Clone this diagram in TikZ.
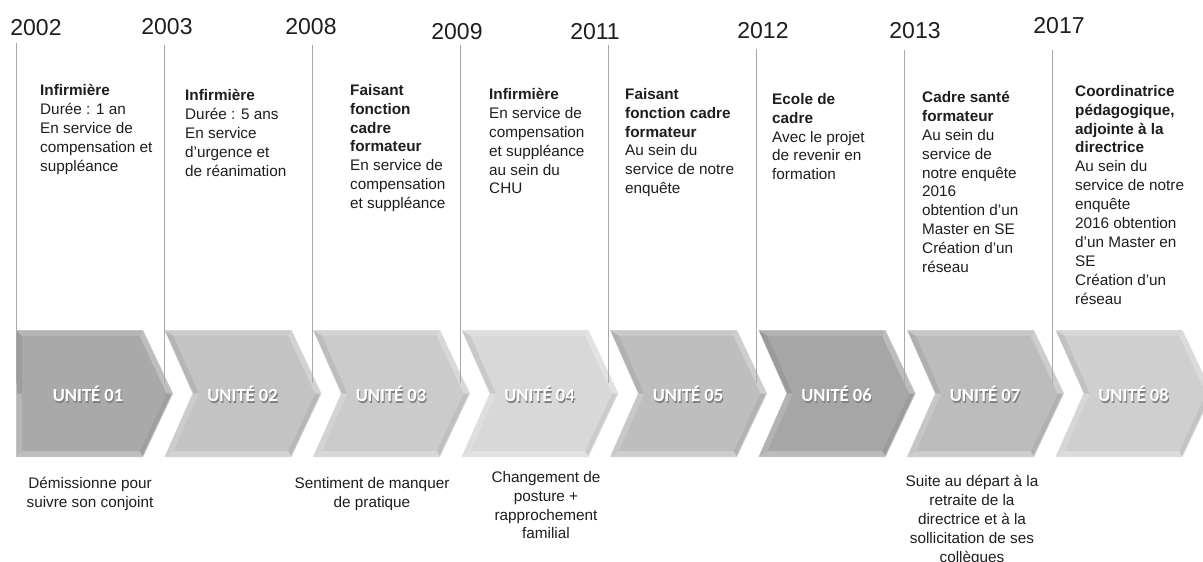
\documentclass[tikz,border=0pt]{standalone}
\usepackage{fontspec}
\setmainfont{Liberation Sans}
\newfontfamily\unitfont{Carlito}
\usepackage{xcolor}
\usepackage{tikz}
\definecolor{sepgray}{HTML}{A8A8A8}
\definecolor{txtgray}{HTML}{1E1E1E}
\tikzset{
  year/.style={font=\fontsize{23}{27}\selectfont, text=txtgray, inner sep=0pt},
  info/.style={font=\fontsize{15.3}{18.9}\selectfont, text=txtgray,
    align=left, anchor=north west, inner sep=0pt},
  note/.style={font=\fontsize{15.3}{18.9}\selectfont, text=txtgray,
    align=center, anchor=north, inner sep=0pt},
  unit/.style={font=\unitfont\bfseries\fontsize{18.5}{20}\selectfont,
    text=white, inner sep=0pt},
  unitshadow/.style={unit, text=black!50},
  sepline/.style={draw=sepgray, line width=1.4pt},
}

\begin{document}
\begin{tikzpicture}[x=1pt, y=-1pt]
  \path[fill=white, use as bounding box] (0,0) rectangle (1203,562);

  % chevrons
  \foreach \i/\base in {1/A9A9A9, 2/C3C3C3, 3/CBCBCB, 4/D8D8D8,
                        5/BEBEBE, 6/A6A6A6, 7/BCBCBC, 8/CFCFCF} {
    \definecolor{cb}{HTML}{\base}
    \pgfmathsetmacro\L{16+148.5*(\i-1)}
    \pgfmathsetmacro\n{\i==1 ? 0 : 28}
    \pgfmathsetmacro\nl{\i==1 ? 6 : 9.2}
    \pgfmathsetmacro\nm{\i==1 ? 6 : 34.5}
    \pgfmathsetmacro\cx{\i==1 ? 88 : \L+78}
    \fill[cb!70!white] (\L,330) -- (\L+127,330) -- (\L+157,393.5) -- (\L+127,457)
      -- (\L,457) -- (\L+\n,393.5) -- cycle;
    \fill[cb!85!white] (\L+0.8,331) -- (\L+126.4,331) -- (\L+123.6,336) -- (\L+\nl,336) -- cycle;
    \fill[cb!75!white] (\L+126.4,331) -- (\L+155.8,393.5) -- (\L+150.5,393.5) -- (\L+123.6,336) -- cycle;
    \fill[cb!94!black] (\L+155.8,393.5) -- (\L+126.4,456) -- (\L+123.6,451) -- (\L+150.5,393.5) -- cycle;
    \fill[cb!75!white] (\L+126.4,456) -- (\L+0.8,456) -- (\L+\nl,451) -- (\L+123.6,451) -- cycle;
    \fill[cb!85!white] (\L+0.8,456) -- (\L+\n+0.8,393.5) -- (\L+\nm,393.5) -- (\L+\nl,451) -- cycle;
    \fill[cb!93!black] (\L+\n+0.8,393.5) -- (\L+0.8,331) -- (\L+\nl,336) -- (\L+\nm,393.5) -- cycle;
    \fill[cb] (\L+\nl,336) -- (\L+123.6,336) -- (\L+150.5,393.5) -- (\L+123.6,451)
      -- (\L+\nl,451) -- (\L+\nm,393.5) -- cycle;
    \node[unitshadow] (us\i) at (\cx+1,395.5) {UNITÉ 0\i};
    \node[unit] (u\i) at (\cx,394) {UNITÉ 0\i};
  }

  % years and separators
  \foreach \k/\yr/\yx/\yy/\top in {0/2002/36/28/43, 1/2003/167/27/45, 2/2008/311/27/45,
      3/2009/457/32/45, 4/2011/595/32/45, 5/2012/763/31/49, 6/2013/915/31/50,
      7/2017/1059/26/50} {
    \node[year] (y\yr) at (\yx,\yy) {\yr};
    \coordinate (t\k) at (16.5+148*\k,\top);
    \coordinate (b\k) at (16.5+148*\k,383);
    \draw[sepline] (t\k) -- (b\k);
  }

  % career steps
  \node[info] (p1) at (40,84) {\textbf{Infirmière}\\Durée : 1 an\\En service de\\compensation et\\suppléance};
  \node[info] (p2) at (185,89) {\textbf{Infirmière}\\Durée : 5 ans\\En service\\d’urgence et\\de réanimation};
  \node[info] (p3) at (350,84) {\textbf{Faisant}\\\textbf{fonction}\\\textbf{cadre}\\\textbf{formateur}\\En service de\\compensation\\et suppléance};
  \node[info] (p4) at (489,88) {\textbf{Infirmière}\\En service de\\compensation\\et suppléance\\au sein du\\CHU};
  \node[info] (p5) at (625,88) {\textbf{Faisant}\\\textbf{fonction cadre}\\\textbf{formateur}\\Au sein du\\service de notre\\enquête};
  \node[info] (p6) at (772,93) {\textbf{Ecole de}\\\textbf{cadre}\\Avec le projet\\de revenir en\\formation};
  \node[info] (p7) at (922,91) {\textbf{Cadre santé}\\\textbf{formateur}\\Au sein du\\service de\\notre enquête\\2016\\obtention d’un\\Master en SE\\Création d’un\\réseau};
  \node[info] (p8) at (1075,85) {\textbf{Coordinatrice}\\\textbf{pédagogique,}\\\textbf{adjointe à la}\\\textbf{directrice}\\Au sein du\\service de notre\\enquête\\2016 obtention\\d’un Master en\\SE\\Création d’un\\réseau};

  % reasons
  \node[note] (r1) at (90,477) {Démissionne pour\\suivre son conjoint};
  \node[note] (r3) at (372,477) {Sentiment de manquer\\de pratique};
  \node[note] (r4) at (546,471) {Changement de\\posture +\\rapprochement\\familial};
  \node[note] (r7) at (972,475) {Suite au départ à la\\retraite de la\\directrice et à la\\sollicitation de ses\\collègues};
\end{tikzpicture}
\end{document}
